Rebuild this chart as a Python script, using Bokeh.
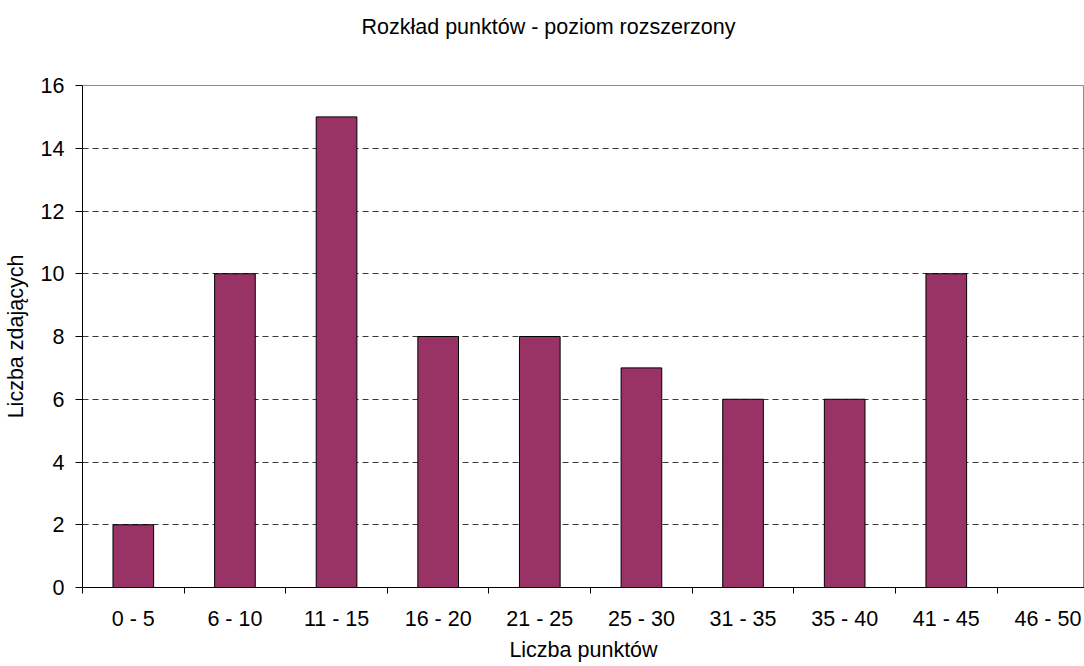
from bokeh.plotting import figure
from bokeh.models import Range1d, FixedTicker, Title, ColumnDataSource
from bokeh.embed import file_html
from bokeh.resources import INLINE

categories = ["0 - 5", "6 - 10", "11 - 15", "16 - 20", "21 - 25",
              "25 - 30", "31 - 35", "35 - 40", "41 - 45", "46 - 50"]
counts = [2, 10, 15, 8, 8, 7, 6, 6, 10, 0]
y_ticks = [0, 2, 4, 6, 8, 10, 12, 14, 16]
title_text = "Rozkład punktów - poziom rozszerzony"
x_label = "Liczba punktów"
y_label = "Liczba zdających"

FONT = "Liberation Sans"
FS = "21.5px"

x_centers = [i + 0.5 for i in range(len(categories))]
boundaries = list(range(len(categories) + 1))
src = ColumnDataSource(dict(x=x_centers, top=counts, cat=categories))

p = figure(width=1084, height=666, output_backend="svg", toolbar_location=None,
           x_range=Range1d(0, 9.86), y_range=Range1d(0, 16),
           min_border_left=81, min_border_right=0, min_border_top=0,
           min_border_bottom=79)
p.background_fill_color = "white"
p.border_fill_color = "white"
p.outline_line_color = "#8c8c8c"

p.vbar(x="x", top="top", width=0.4, bottom=0, source=src,
       fill_color="#993366", line_color="black", line_width=1)

# grid
p.xgrid.visible = False
p.ygrid.ticker = FixedTicker(ticks=y_ticks[1:-1])
p.ygrid.grid_line_color = "#3a3a3a"
p.ygrid.grid_line_dash = "6 4"
p.ygrid.grid_line_width = 1

# y axis
ya = p.yaxis[0]
ya.ticker = FixedTicker(ticks=y_ticks)
ya.major_tick_out = 7
ya.major_tick_in = 0
ya.minor_tick_out = 0
ya.minor_tick_in = 0
ya.axis_line_color = "black"
ya.major_tick_line_color = "black"
ya.major_label_standoff = 11
ya.major_label_text_font = FONT
ya.major_label_text_font_size = FS
ya.major_label_text_color = "black"
ya.axis_label = y_label
ya.axis_label_text_font = FONT
ya.axis_label_text_font_size = FS
ya.axis_label_text_font_style = "normal"
ya.axis_label_text_color = "black"
ya.axis_label_standoff = 10

# x axis
xa = p.xaxis[0]
xa.ticker = FixedTicker(ticks=x_centers, minor_ticks=boundaries)
xa.major_label_overrides = {c: lab for c, lab in zip(x_centers, categories)}
xa.major_tick_out = 0
xa.major_tick_in = 0
xa.minor_tick_out = 6
xa.minor_tick_in = 0
xa.minor_tick_line_color = "black"
xa.axis_line_color = "black"
xa.major_label_standoff = 13
xa.major_label_text_font = FONT
xa.major_label_text_font_size = FS
xa.major_label_text_color = "black"
xa.axis_label = x_label
xa.axis_label_text_font = FONT
xa.axis_label_text_font_size = FS
xa.axis_label_text_font_style = "normal"
xa.axis_label_text_color = "black"
xa.axis_label_standoff = 4

# titles: spacer (nearest frame) then the real title above it
spacer = Title(text=" ", text_font=FONT, text_font_size=FS, standoff=5)
p.add_layout(spacer, "above")
title = Title(text=title_text, align="left", offset=279, vertical_align="top",
              standoff=28, text_font=FONT, text_font_size=FS,
              text_font_style="normal", text_color="black")
p.add_layout(title, "above")

open("out.html", "w").write(file_html(p, INLINE))
